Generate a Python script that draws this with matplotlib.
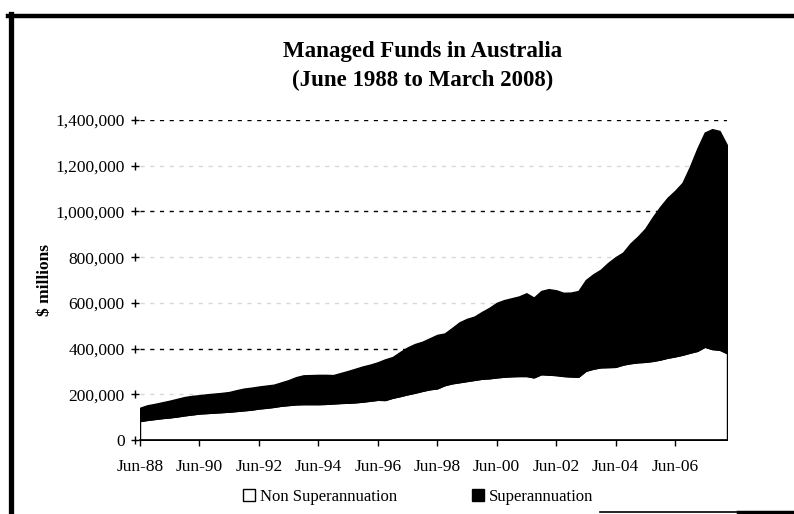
import numpy as np
import matplotlib
matplotlib.use('Agg')
import matplotlib.pyplot as plt
import matplotlib.transforms as mtransforms
from matplotlib.patches import Patch
from matplotlib.lines import Line2D

plt.rcParams['font.family'] = ['Liberation Serif', 'DejaVu Serif']

# quarterly figures, Jun-88 .. Mar-08 ($ millions, thousands)
total_funds = [
    141, 152, 158, 165, 172, 180, 188, 193, 196, 200,
    203, 206, 210, 218, 225, 229, 234, 238, 242, 252,
    262, 275, 283, 284, 285, 285, 284, 293, 302, 312,
    322, 330, 340, 353, 363, 385, 405, 420, 430, 445,
    460, 466, 490, 515, 530, 540, 560, 578, 600, 612,
    620, 628, 642, 623, 652, 660, 655, 644, 645, 652,
    700, 725, 745, 775, 800, 820, 860, 890, 925, 975,
    1020, 1060, 1090, 1125, 1195, 1275, 1345, 1360, 1352, 1290,
]
non_super = [
    83, 88, 92, 96, 99, 103, 108, 112, 116, 118,
    120, 122, 124, 127, 130, 133, 138, 141, 145, 150,
    153, 156, 157, 157, 157, 158, 160, 162, 163, 165,
    168, 172, 176, 175, 185, 192, 200, 207, 215, 222,
    226, 240, 248, 253, 258, 263, 268, 270, 274, 277,
    279, 280, 280, 274, 288, 286, 284, 280, 278, 277,
    303, 312, 318, 319, 320, 330, 336, 340, 342, 346,
    352, 360, 366, 373, 382, 390, 408, 398, 395, 380,
]
tick_pos = [0, 8, 16, 24, 32, 40, 48, 56, 64, 72]
tick_labels = ['Jun-88', 'Jun-90', 'Jun-92', 'Jun-94', 'Jun-96',
               'Jun-98', 'Jun-00', 'Jun-02', 'Jun-04', 'Jun-06']
y_ticks = [0, 200000, 400000, 600000, 800000, 1000000, 1200000, 1400000]

quarters = np.arange(len(total_funds))
non_sup = np.array(non_super) * 1000.0
sup = np.array(total_funds) * 1000.0 - non_sup

fig = plt.figure(figsize=(7.94, 5.14), dpi=100)
ax = fig.add_axes([140 / 794, 74 / 514, 587 / 794, 320 / 514])

# gridlines: the scanned page only keeps some of them dark
for yv in y_ticks[1:]:
    strong = yv in (400000, 1000000, 1400000)
    ax.axhline(yv, color='black' if strong else '#d8d8d8',
               linestyle=(0, (3, 4)), linewidth=1.0, zorder=0)

ax.stackplot(quarters, non_sup, sup, colors=['white', 'black'],
             edgecolor='black', linewidth=1.0, zorder=2)

ax.set_xlim(0, len(total_funds) - 1)
ax.set_ylim(0, 1400000)

for side in ['top', 'right', 'left']:
    ax.spines[side].set_visible(False)
ax.spines['bottom'].set_linewidth(1.2)

ax.set_xticks(tick_pos)
ax.set_xticklabels(tick_labels, fontsize=12.5)
ax.tick_params(axis='x', direction='out', length=4, width=1, pad=10)

ax.set_yticks(y_ticks)
ax.set_yticklabels(['{:,}'.format(v) for v in y_ticks], fontsize=12.5)
ax.tick_params(axis='y', length=0, pad=11)

# small cross marks beside the value labels
trans = mtransforms.blended_transform_factory(ax.transAxes, ax.transData)
ax.scatter([-0.008] * len(y_ticks), y_ticks, marker='+', s=30, color='black',
           linewidths=1.0, transform=trans, clip_on=False, zorder=3)

ax.set_ylabel('$ millions', fontsize=12.5, fontweight='bold', labelpad=2)

fig.text(423 / 794, 1 - 52 / 514, 'Managed Funds in Australia', ha='center',
         va='center', fontsize=16.5, fontweight='bold')
fig.text(423 / 794, 1 - 80 / 514, '(June 1988 to March 2008)', ha='center',
         va='center', fontsize=16.5, fontweight='bold')

handles = [Patch(facecolor='white', edgecolor='black', linewidth=1.0),
           Patch(facecolor='black', edgecolor='black')]
fig.legend(handles, ['Non Superannuation', 'Superannuation'],
           loc='center', bbox_to_anchor=(418 / 794, 1 - 497 / 514), ncol=2,
           frameon=False, fontsize=12, handlelength=0.7, handleheight=0.7,
           handletextpad=0.3, columnspacing=4.5)

# page frame
fig.add_artist(Line2D([8 / 794, 1], [1 - 15.5 / 514] * 2, color='black',
                      linewidth=3.2, transform=fig.transFigure))
fig.add_artist(Line2D([10.5 / 794] * 2, [0, 1 - 14 / 514], color='black',
                      linewidth=3.8, transform=fig.transFigure))
fig.add_artist(Line2D([600 / 794, 1], [1 - 512 / 514] * 2, color='black',
                      linewidth=1.2, transform=fig.transFigure))
fig.add_artist(Line2D([738 / 794, 1], [1 - 512 / 514] * 2, color='black',
                      linewidth=2.5, transform=fig.transFigure))

fig.savefig('out.png', dpi=100)
